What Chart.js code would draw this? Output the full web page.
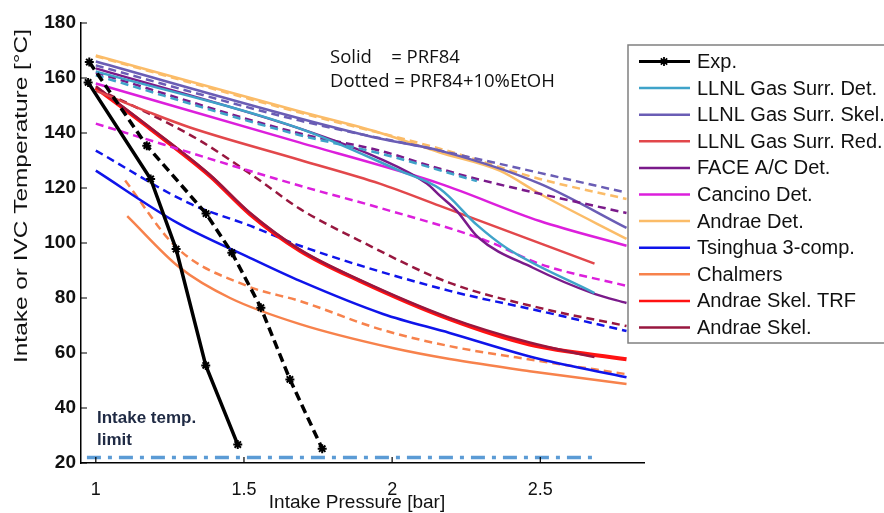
<!DOCTYPE html>
<html>
<head>
<meta charset="utf-8">
<script src="https://cdn.jsdelivr.net/npm/chart.js@4.4.0/dist/chart.umd.min.js"></script>
<style>
  html, body { margin: 0; padding: 0; background: #fff; }
</style>
</head>
<body>
<canvas id="chart" width="884" height="513"></canvas>
<script>
// x = intake pressure [bar], y = intake / IVC temperature [°C]
// solid = PRF84, dashed = PRF84+10%EtOH
const seriesNames = ['Exp.', 'LLNL Gas Surr. Det.', 'LLNL Gas Surr. Skel.', 'LLNL Gas Surr. Red.',
  'FACE A/C Det.', 'Cancino Det.', 'Andrae Det.', 'Tsinghua 3-comp.', 'Chalmers',
  'Andrae Skel. TRF', 'Andrae Skel.'];
const seriesColors = ['#000000', '#3fa3c9', '#6a5db5', '#e2474b', '#7a1a8a', '#dc1fdc',
  '#fbbc68', '#0f14ea', '#f7824c', '#ff1212', '#98173f'];

const expPrf84 = [[0.974, 158.4], [1.185, 123.3], [1.271, 97.8], [1.371, 55.5], [1.479, 26.7]];
const expEtoh = [[0.978, 165.8], [1.172, 135.4], [1.372, 110.7], [1.459, 96.5], [1.557, 76.5], [1.655, 50.4], [1.764, 25.2]];

const llnlDetPrf84 = [[1.0, 162.4], [1.689, 141.6], [2.025, 126.3], [2.161, 119.7], [2.289, 106.3], [2.386, 98.2], [2.683, 81.8]];
const llnlDetEtoh = [[1.0, 161.0], [1.689, 139.2], [1.958, 132.6], [2.286, 122.5]];

const llnlSkelPrf84 = [[1.0, 166.0], [1.689, 145.3], [1.958, 138.0], [2.161, 133.6], [2.498, 121.6], [2.791, 105.5]];
const llnlSkelEtoh = [[1.0, 164.6], [1.689, 144.5], [2.161, 133.6], [2.498, 125.5], [2.791, 118.3]];

const llnlRedPrf84 = [[1.0, 155.4], [1.183, 147.4], [1.318, 142.0], [1.689, 130.2], [1.958, 121.6], [2.161, 113.5], [2.683, 92.5]];

const facePrf84 = [[1.0, 163.5], [1.689, 141.6], [1.958, 130.7], [2.117, 121.6], [2.161, 117.2], [2.218, 111.7], [2.289, 102.2], [2.475, 91.0], [2.683, 81.5], [2.791, 78.2]];
const faceEtoh = [[1.0, 162.0], [1.689, 139.8], [1.958, 133.6], [2.161, 127.0], [2.286, 123.3], [2.791, 110.9]];

const cancinoPrf84 = [[1.0, 158.0], [1.689, 136.5], [2.161, 121.6], [2.498, 108.0], [2.791, 99.0]];
const cancinoEtoh = [[1.0, 143.4], [1.689, 120.8], [1.958, 112.8], [2.319, 100.8], [2.498, 92.4], [2.791, 84.4]];

const andraeDetPrf84 = [[1.0, 168.2], [1.689, 147.8], [1.958, 140.1], [2.161, 132.9], [2.363, 126.3], [2.498, 117.9], [2.791, 101.5]];
const andraeDetEtoh = [[1.0, 167.9], [1.689, 147.4], [2.161, 134.3], [2.498, 123.3], [2.791, 116.0]];

const tsinghuaPrf84 = [[1.0, 126.3], [1.274, 107.4], [1.520, 94.6], [1.689, 86.2], [1.969, 74.2], [2.194, 67.3], [2.498, 57.8], [2.791, 51.2]];
const tsinghuaEtoh = [[1.0, 133.6], [1.318, 114.3], [1.520, 106.3], [1.689, 99.0], [2.194, 82.6], [2.498, 75.3], [2.791, 68.0]];

const chalmersPrf84 = [[1.106, 109.8], [1.284, 91.0], [1.453, 80.0], [1.689, 70.5], [2.002, 61.8], [2.194, 57.8], [2.464, 53.4], [2.791, 48.7]];
const chalmersEtoh = [[1.099, 122.7], [1.274, 98.2], [1.510, 84.4], [1.689, 78.9], [1.958, 68.7], [2.194, 62.5], [2.498, 57.1], [2.791, 52.3]];

const andraeTrfPrf84 = [[1.0, 156.5], [1.183, 141.6], [1.385, 124.4], [1.520, 110.5], [1.689, 97.2], [1.891, 86.2], [2.194, 72.3], [2.464, 63.1], [2.791, 57.7]];

const andraeSkelPrf84 = [[1.0, 157.0], [1.183, 142.0], [1.385, 124.8], [1.520, 111.0], [1.689, 97.6], [1.891, 86.6], [2.194, 72.8], [2.464, 63.8], [2.683, 58.5]];
const andraeSkelEtoh = [[1.0, 156.2], [1.173, 147.4], [1.352, 137.2], [1.554, 122.7], [1.689, 112.4], [1.891, 100.8], [2.194, 85.5], [2.498, 76.4], [2.791, 69.8]];

const intakeLimit = [[0.97, 22], [2.69, 22]];

const xTicks = [1, 1.5, 2, 2.5];
const yTicks = [20, 40, 60, 80, 100, 120, 140, 160, 180];

const DASH = [8, 5];

function series(label, pts, color, dashed, width) {
  return {
    label: label,
    data: pts.map(p => ({ x: p[0], y: p[1] })),
    borderColor: color,
    backgroundColor: color,
    borderWidth: width || 2.5,
    borderDash: dashed ? DASH : [],
    pointRadius: 0,
    cubicInterpolationMode: 'monotone',
    fill: false
  };
}

function expSeries(pts, dashed) {
  return {
    label: 'Exp.',
    data: pts.map(p => ({ x: p[0], y: p[1] })),
    borderColor: '#000',
    backgroundColor: '#000',
    borderWidth: 3.5,
    borderDash: dashed ? [9, 5] : [],
    pointStyle: 'star',
    pointRadius: 4.5,
    pointBorderWidth: 2,
    tension: 0,
    fill: false
  };
}

const c = seriesColors;
const datasets = [
  expSeries(expPrf84, false),
  expSeries(expEtoh, true),
  series('LLNL Gas Surr. Det.', llnlDetPrf84, c[1], false),
  series('LLNL Gas Surr. Det.', llnlDetEtoh, c[1], true),
  series('FACE A/C Det.', facePrf84, c[4], false),
  series('FACE A/C Det.', faceEtoh, c[4], true),
  series('LLNL Gas Surr. Skel.', llnlSkelPrf84, c[2], false),
  series('LLNL Gas Surr. Skel.', llnlSkelEtoh, c[2], true),
  series('Andrae Det.', andraeDetPrf84, c[6], false),
  series('Andrae Det.', andraeDetEtoh, c[6], true),
  series('Cancino Det.', cancinoPrf84, c[5], false),
  series('Cancino Det.', cancinoEtoh, c[5], true),
  series('LLNL Gas Surr. Red.', llnlRedPrf84, c[3], false),
  series('Andrae Skel.', andraeSkelPrf84, c[10], false),
  series('Andrae Skel. TRF', andraeTrfPrf84, c[9], false, 4),
  series('Andrae Skel.', andraeSkelEtoh, c[10], true),
  series('Tsinghua 3-comp.', tsinghuaPrf84, c[7], false),
  series('Tsinghua 3-comp.', tsinghuaEtoh, c[7], true),
  series('Chalmers', chalmersPrf84, c[8], false),
  series('Chalmers', chalmersEtoh, c[8], true),
  {
    label: 'Intake temp. limit',
    data: intakeLimit.map(p => ({ x: p[0], y: p[1] })),
    borderColor: '#5b9bd5',
    borderWidth: 3.5,
    borderDash: [14, 7, 4, 7],
    pointRadius: 0,
    fill: false
  }
];

const FONT = '"Liberation Sans", Arial, sans-serif';
const NOTE_FONT = '"Open Sans", "Liberation Sans", sans-serif';

// small tick marks pointing into the plot
const innerTicks = {
  id: 'innerTicks',
  afterDraw(chart) {
    const ctx = chart.ctx, a = chart.chartArea;
    const xs = chart.scales.x, ys = chart.scales.y;
    ctx.save();
    ctx.strokeStyle = '#000';
    ctx.lineWidth = 1.2;
    ctx.beginPath();
    yTicks.forEach(v => { const y = ys.getPixelForValue(v); ctx.moveTo(a.left, y); ctx.lineTo(a.left + 6, y); });
    xTicks.forEach(v => { const x = xs.getPixelForValue(v); ctx.moveTo(x, a.bottom); ctx.lineTo(x, a.bottom - 6); });
    ctx.stroke();
    ctx.restore();
  }
};

// axis titles, notes and the boxed legend
const extras = {
  id: 'extras',
  afterDraw(chart) {
    const ctx = chart.ctx;
    ctx.save();
    ctx.fillStyle = '#111';

    // y title, stretched to the length it has in the figure
    const yt = 'Intake or IVC Temperature [°C]';
    ctx.font = '19px ' + FONT;
    const w = ctx.measureText(yt).width;
    ctx.save();
    ctx.translate(22, 196);
    ctx.rotate(-Math.PI / 2);
    ctx.scale(334 / w, 1);
    ctx.textAlign = 'center';
    ctx.textBaseline = 'middle';
    ctx.fillText(yt, 0, 0);
    ctx.restore();

    // x title
    ctx.textAlign = 'center';
    ctx.textBaseline = 'middle';
    ctx.font = '19px ' + FONT;
    ctx.fillText('Intake Pressure [bar]', 357, 503);

    // notes
    ctx.textAlign = 'left';
    ctx.font = '18.5px ' + NOTE_FONT;
    ctx.fillText('Solid    = PRF84', 330, 58);
    ctx.fillText('Dotted = PRF84+10%EtOH', 330, 82);
    ctx.font = 'bold 17px ' + FONT;
    ctx.fillStyle = '#1f2a44';
    ctx.fillText('Intake temp.', 97, 418);
    ctx.fillText('limit', 97, 440);

    // legend
    ctx.fillStyle = '#fff';
    ctx.fillRect(628, 45, 262, 298);
    ctx.strokeStyle = '#808080';
    ctx.lineWidth = 1.5;
    ctx.strokeRect(628, 45, 262, 298);
    ctx.font = '20px ' + FONT;
    ctx.textBaseline = 'middle';
    seriesNames.forEach((name, i) => {
      const y = 61.5 + i * 26.6;
      ctx.strokeStyle = seriesColors[i];
      ctx.lineWidth = i === 0 ? 3 : 2.5;
      ctx.beginPath();
      ctx.moveTo(639, y);
      ctx.lineTo(690, y);
      ctx.stroke();
      if (i === 0) {
        ctx.lineWidth = 1.8;
        ctx.beginPath();
        for (let k = 0; k < 4; k++) {
          const ang = k * Math.PI / 4;
          ctx.moveTo(664 - 4.5 * Math.cos(ang), y - 4.5 * Math.sin(ang));
          ctx.lineTo(664 + 4.5 * Math.cos(ang), y + 4.5 * Math.sin(ang));
        }
        ctx.stroke();
      }
      ctx.fillStyle = '#111';
      ctx.fillText(name, 697, y + 1);
    });
    ctx.restore();
  }
};

new Chart(document.getElementById('chart').getContext('2d'), {
  type: 'line',
  data: { datasets: datasets },
  options: {
    responsive: false,
    animation: false,
    layout: { padding: { left: 0, top: 23, right: 240, bottom: 0 } },
    plugins: { legend: { display: false }, tooltip: { enabled: false } },
    scales: {
      x: {
        type: 'linear',
        min: 0.95,
        max: 2.85,
        afterBuildTicks: s => { s.ticks = xTicks.map(v => ({ value: v })); },
        afterFit: s => { s.height = 50; },
        grid: { display: true, drawOnChartArea: false, drawTicks: false },
        border: { display: true, color: '#000', width: 1.5 },
        ticks: { color: '#111', padding: 16, font: { family: FONT, size: 18 }, maxRotation: 0,
          callback: v => String(v) }
      },
      y: {
        min: 20,
        max: 180,
        afterBuildTicks: s => { s.ticks = yTicks.map(v => ({ value: v })); },
        afterFit: s => { s.width = 81; },
        grid: { display: true, drawOnChartArea: false, drawTicks: false },
        border: { display: true, color: '#000', width: 1.5 },
        ticks: { color: '#111', padding: 5, font: { family: FONT, size: 19, weight: 'bold' } }
      }
    }
  },
  plugins: [innerTicks, extras]
});
</script>
</body>
</html>
